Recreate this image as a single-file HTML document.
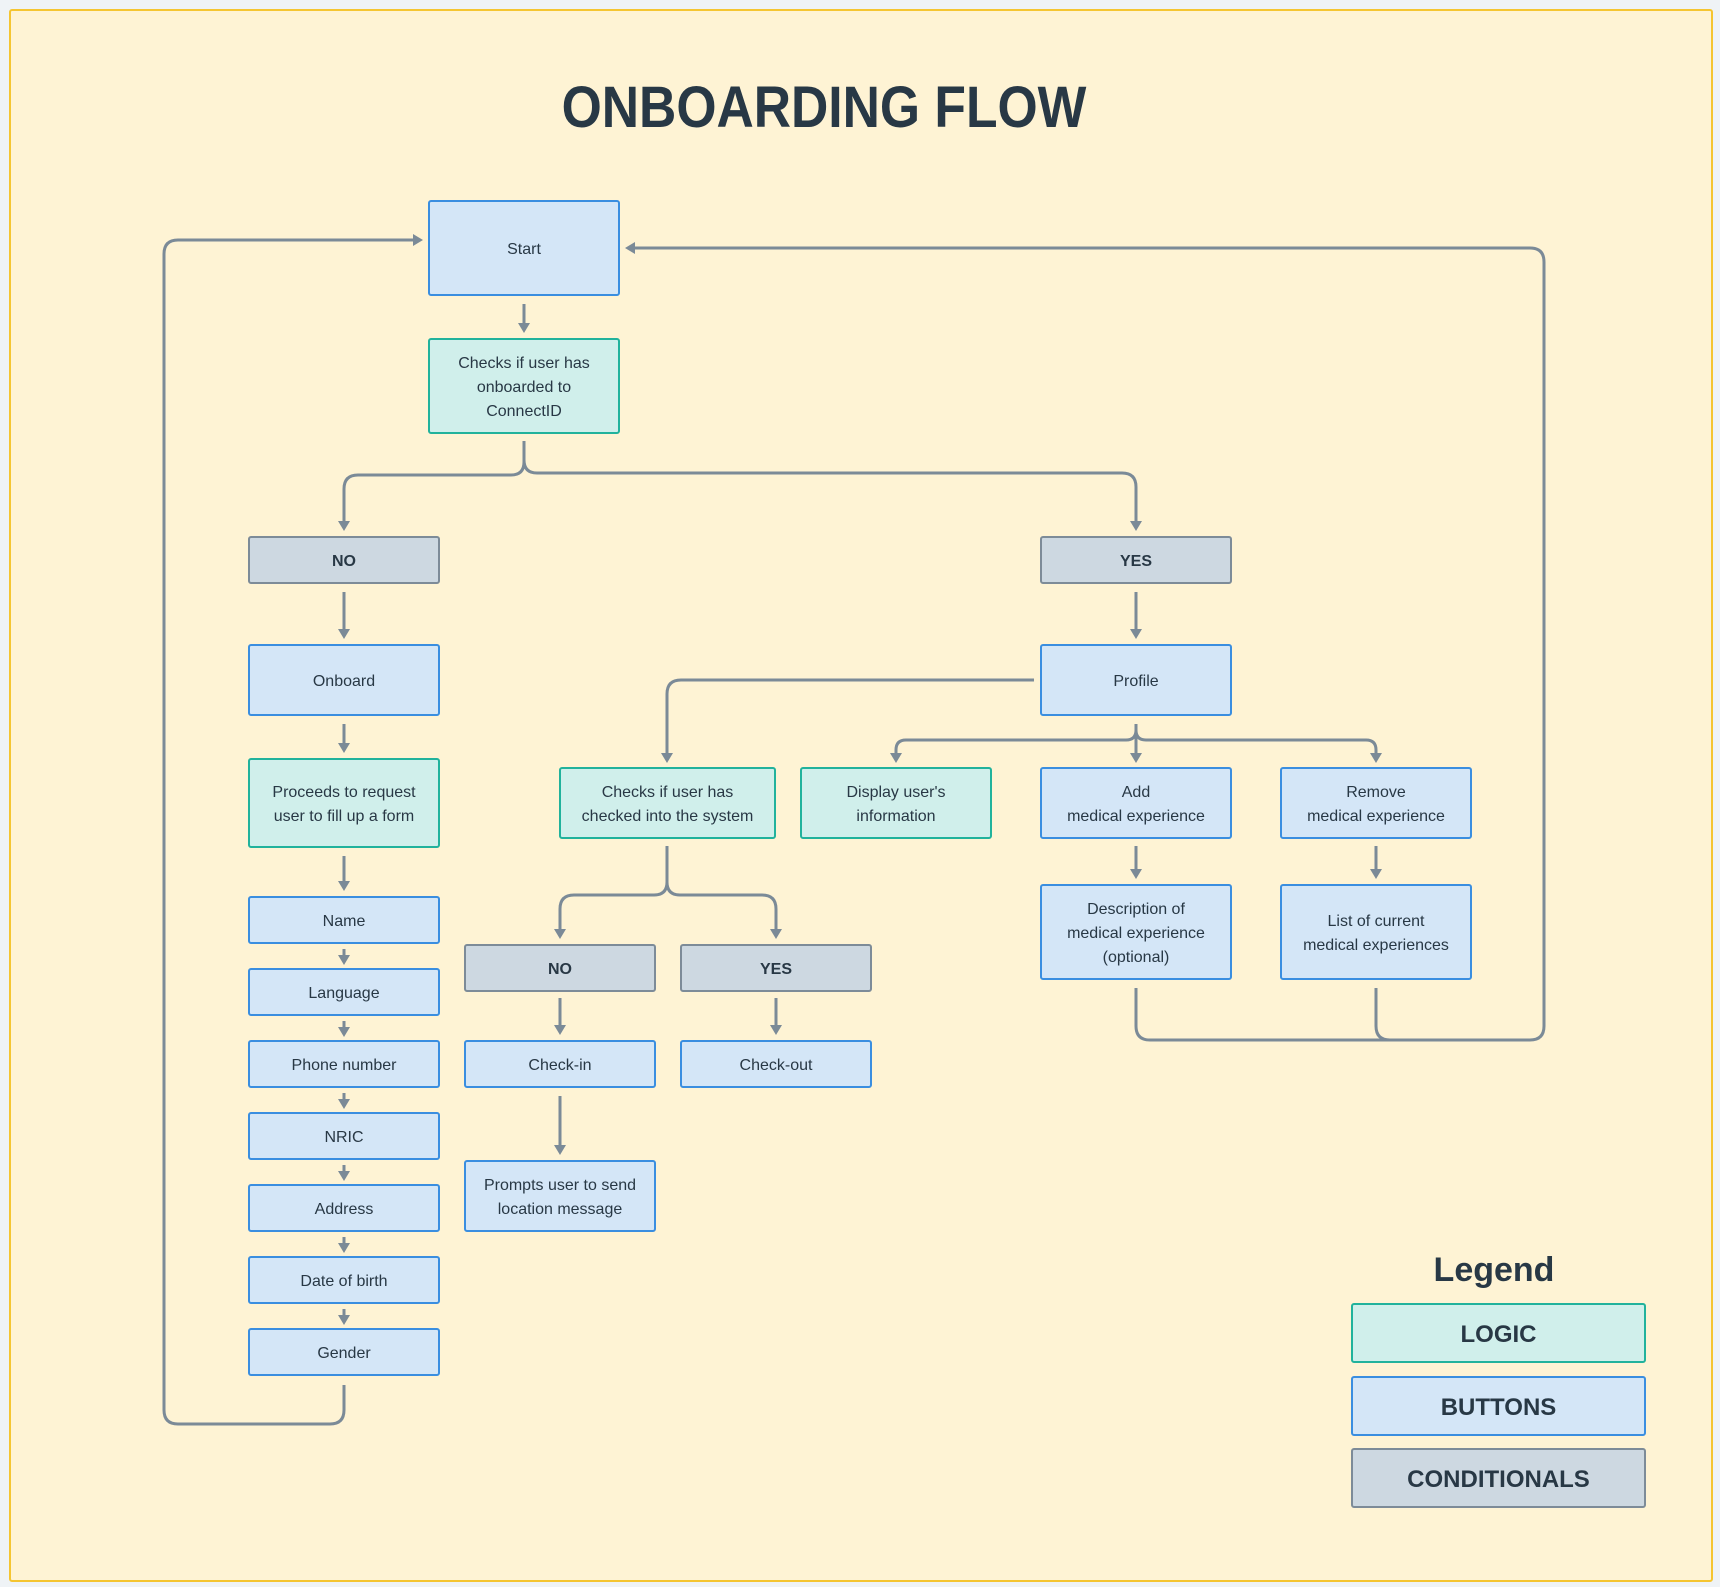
<!DOCTYPE html>
<html><head><meta charset="utf-8"><style>
body{margin:0;width:1720px;height:1587px;background:#eff3f6;position:relative;overflow:hidden;font-family:"Liberation Sans",sans-serif;color:#283845}
.frame{position:absolute;left:9px;top:9px;width:1700px;height:1569px;background:#fef3d4;border:2px solid #f5c531;border-radius:3px}
.b{position:absolute;box-sizing:border-box;display:flex;align-items:center;justify-content:center;text-align:center;font-size:16px;line-height:24px;padding-top:3px;border:2px solid #3a8ee0;background:#d4e6f7;border-radius:3px}
.l{border-color:#21b29c;background:#d0efeb}
.c{border-color:#7d8b98;background:#cdd8e1;font-weight:bold}
.t{position:absolute;font-weight:bold;text-align:center}
svg{position:absolute;left:0;top:0}
</style></head><body>
<div class="frame"></div>
<div class="t" style="left:0;width:1648px;top:72px;font-size:58px;line-height:72px;transform:scaleX(0.89);transform-origin:824px 0">ONBOARDING FLOW</div>
<svg width="1720" height="1587" fill="none" stroke="#7b8a97" stroke-width="3">
<defs><marker id="a" markerWidth="10" markerHeight="12" refX="5" refY="6" orient="auto" markerUnits="userSpaceOnUse"><path d="M0,0L10,6L0,12z" fill="#7b8a97" stroke="none"/></marker></defs>
<g marker-end="url(#a)">
<path d="M524 304V328"/>
<path d="M524 441V462Q524 475 511 475H358Q344 475 344 489V526"/>
<path d="M524 441V460Q524 473 537 473H1122Q1136 473 1136 487V526"/>
<path d="M344 592V634"/><path d="M344 724V748"/><path d="M344 856V886"/>
<path d="M344 949V960"/><path d="M344 1021V1032"/><path d="M344 1093V1104"/><path d="M344 1165V1176"/><path d="M344 1237V1248"/><path d="M344 1309V1320"/>
<path d="M344 1385V1410Q344 1424 330 1424H178Q164 1424 164 1410V254Q164 240 178 240H418"/>
<path d="M1136 592V634"/>
<path d="M1034 680H681Q667 680 667 694V758"/>
<path d="M1136 724V758"/>
<path d="M1136 724V730Q1136 740 1126 740H906Q896 740 896 750V758"/>
<path d="M1136 724V730Q1136 740 1146 740H1366Q1376 740 1376 750V758"/>
<path d="M1136 846V874"/><path d="M1376 846V874"/>
<path d="M667 846V882Q667 895 654 895H574Q560 895 560 909V934"/>
<path d="M667 846V882Q667 895 680 895H762Q776 895 776 909V934"/>
<path d="M560 998V1030"/><path d="M776 998V1030"/><path d="M560 1096V1150"/>
<path d="M1136 988V1026Q1136 1040 1150 1040H1530Q1544 1040 1544 1026V262Q1544 248 1530 248H630"/>
</g>
<path d="M1376 988V1026Q1376 1040 1390 1040"/>
</svg>
<div class="b" style="left:428px;top:200px;width:192px;height:96px">Start</div>
<div class="b l" style="left:428px;top:338px;width:192px;height:96px">Checks if user has<br>onboarded to<br>ConnectID</div>
<div class="b c" style="left:248px;top:536px;width:192px;height:48px">NO</div>
<div class="b c" style="left:1040px;top:536px;width:192px;height:48px">YES</div>
<div class="b" style="left:248px;top:644px;width:192px;height:72px">Onboard</div>
<div class="b l" style="left:248px;top:758px;width:192px;height:90px">Proceeds to request<br>user to fill up a form</div>
<div class="b" style="left:248px;top:896px;width:192px;height:48px">Name</div>
<div class="b" style="left:248px;top:968px;width:192px;height:48px">Language</div>
<div class="b" style="left:248px;top:1040px;width:192px;height:48px">Phone number</div>
<div class="b" style="left:248px;top:1112px;width:192px;height:48px">NRIC</div>
<div class="b" style="left:248px;top:1184px;width:192px;height:48px">Address</div>
<div class="b" style="left:248px;top:1256px;width:192px;height:48px">Date of birth</div>
<div class="b" style="left:248px;top:1328px;width:192px;height:48px">Gender</div>
<div class="b" style="left:1040px;top:644px;width:192px;height:72px">Profile</div>
<div class="b l" style="left:559px;top:767px;width:217px;height:72px">Checks if user has<br>checked into the system</div>
<div class="b l" style="left:800px;top:767px;width:192px;height:72px">Display user's<br>information</div>
<div class="b" style="left:1040px;top:767px;width:192px;height:72px">Add<br>medical experience</div>
<div class="b" style="left:1280px;top:767px;width:192px;height:72px">Remove<br>medical experience</div>
<div class="b" style="left:1040px;top:884px;width:192px;height:96px">Description of<br>medical experience<br>(optional)</div>
<div class="b" style="left:1280px;top:884px;width:192px;height:96px">List of current<br>medical experiences</div>
<div class="b c" style="left:464px;top:944px;width:192px;height:48px">NO</div>
<div class="b c" style="left:680px;top:944px;width:192px;height:48px">YES</div>
<div class="b" style="left:464px;top:1040px;width:192px;height:48px">Check-in</div>
<div class="b" style="left:680px;top:1040px;width:192px;height:48px">Check-out</div>
<div class="b" style="left:464px;top:1160px;width:192px;height:72px">Prompts user to send<br>location message</div>
<div class="t" style="left:1394px;width:200px;top:1250px;font-size:34px;line-height:40px">Legend</div>
<div class="b l" style="left:1351px;top:1303px;width:295px;height:60px;font-size:24px;font-weight:bold">LOGIC</div>
<div class="b" style="left:1351px;top:1376px;width:295px;height:60px;font-size:24px;font-weight:bold">BUTTONS</div>
<div class="b c" style="left:1351px;top:1448px;width:295px;height:60px;font-size:24px">CONDITIONALS</div>
</body></html>
